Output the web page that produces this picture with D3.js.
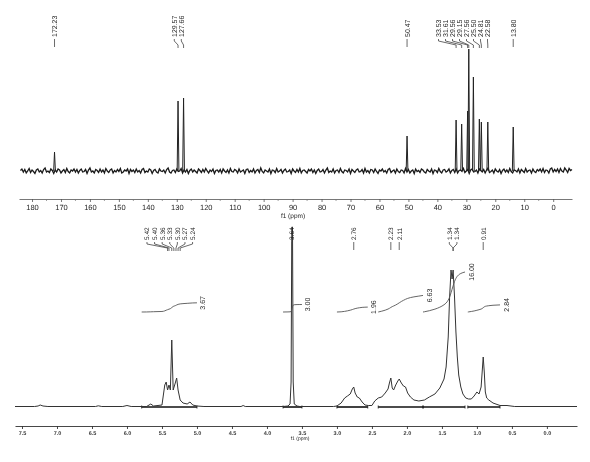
<!DOCTYPE html>
<html>
<head>
<meta charset="utf-8">
<script src="https://cdn.jsdelivr.net/npm/d3@7/dist/d3.min.js"></script>
<style>
  html, body { margin: 0; padding: 0; background: #fff; }
  svg { display: block; font-family: "Liberation Sans", Arial, sans-serif; will-change: transform; }
  svg text { -webkit-font-smoothing: antialiased; text-rendering: geometricPrecision; }
</style>
</head>
<body>
<svg id="chart" width="590" height="462"></svg>
<script>
// ---------- 13C spectrum (f1, ppm) ----------
const c13PeakShifts  = [172.23, 129.57, 127.66, 50.47, 33.53, 31.61, 29.56, 29.15, 27.56, 25.50, 24.81, 22.58, 13.80];
const c13PeakHeights = [19, 70, 73, 35, 51, 47, 60, 122, 94, 52, 49, 49, 44];
const c13PeakLabels  = ["172.23", "129.57", "127.66", "50.47", "33.53", "31.61", "29.56", "29.15", "27.56", "25.50", "24.81", "22.58", "13.80"];
// baseline noise, one value every 0.5 ppm from 184 down to -6.5
const c13NoiseStart = 184;
const c13NoiseStep = 0.5;
const c13Noise = [
  0.5, 2, -1, 1.5, -2, 0, 2.5, -1.5, 1, -0.5, -2.5, 1, 2, -1, 0.5, -2, 1.5, 3, -1, 0,
  -1.5, 2, 0.5, -2.5, 1, -1, 2, 1, -2, 0, 1.5, -1.5, 2.5, -0.5, -2, 1, 0, 2, -1, 1.5,
  -2, 0.5, 2, -1, -0.5, 1.5, -2.5, 1, 3, -1, 0, -2, 1.5, 0.5, -1.5, 2, -1, 1, -2, 2.5,
  0, -1.5, 1, 2, -2, 0.5, -1, 1.5, -0.5, 2.5, -2, -1, 1, 0, 2, -2.5, 1.5, -0.5, 1, -1.5,
  2, -1, 0.5, -2, 1.5, 2.5, -1.5, 0, -1, 2, 1, -2.5, 0.5, 1.5, -1, -2, 2, 0, -0.5, 1,
  -2, 1.5, 3, -1, -2, 0.5, 1, -1.5, 2, -0.5, 0, 2.5, -2, 1, -1, 1.5, -2.5, 0.5, 2, -1,
  1, -0.5, -2, 2, 0.5, -1.5, 1.5, -1, 2.5, 0, -2, 1, -0.5, 2, -2.5, 0.5, 1, -1, 1.5, -2,
  2, 0, -1.5, 1, -2, 2.5, -0.5, -1, 1.5, 0.5, -2, 2, -1, 0, 1, -2.5, 1.5, 2, -1.5, 0.5,
  -1, 2, -2, 0.5, 1.5, -1.5, 3, -0.5, -2, 1, 0, -1, 2, -2.5, 1, 0.5, -1.5, 2.5, -1, 0,
  1.5, -2, 0.5, 2, -1, -0.5, 1, -2.5, 2, 0, -1.5, 1.5, -1, 2.5, -2, 0.5, 1, -0.5, -2, 1.5,
  0, 2, -1.5, 1, -2.5, 0.5, 2, -1, -0.5, 1.5, -2, 1, 3, -1.5, 0, -1, 2, -2, 0.5, 1,
  -1.5, 2.5, -0.5, -2, 1, 0.5, -1, 2, -2.5, 1.5, 0, -1.5, 1, 2, -1, -0.5, 1.5, -2, 2.5, -1,
  0.5, -2, 1.5, 1, -1.5, 2, -0.5, -2.5, 1, 0, 2, -1, 0.5, -2, 1.5, 2.5, -1.5, 0, 1, -2,
  2, -0.5, -1.5, 1, 0.5, -2, 2.5, -1, 1.5, -2, 0, 1, -2.5, 2, -0.5, 0.5, -1.5, 2, 1, -1,
  -2, 1.5, 0, -1, 2, -2.5, 1, 0.5, -1.5, 2.5, -0.5, -2, 1, 1.5, -1, 0, 2, -2, 0.5, 1.5,
  -1.5, 2, -2, 0.5, 1, -0.5, 2.5, -1.5, 0, 1.5, -2.5, 1, 2, -1, -0.5, 1, -2, 2, 0.5, -1,
  1.5, -2, 1, 3, -1.5, -0.5, 1, -2, 2, 0, -1, 1.5, -2.5, 0.5, 2, -1, 1, -1.5, 2.5, -0.5,
  -2, 1, 0.5, -1, 2, -2, 1.5, 0, -1.5, 2.5, -1, 0.5, 1, -2, 2, -0.5, -1.5, 1.5, 0, 2,
  -1, 2.5, -1.5, 1, 0.5, -2, 2, 3, -1, 1.5, -0.5, 2, -1.5, 2.5, 0, -1, 3, 1, -1.5, 2.5,
  0.5, 1.5
];
const c13AxisTicks = [180, 170, 160, 150, 140, 130, 120, 110, 100, 90, 80, 70, 60, 50, 40, 30, 20, 10, 0];

// ---------- 1H spectrum (f1, ppm) ----------
const h1Ppm = [
  7.60, 7.32, 7.27, 7.24, 7.20, 7.13, 6.45, 6.41, 6.36, 6.06, 6.00, 5.94,
  5.72, 5.66, 5.62, 5.50, 5.48, 5.46, 5.44, 5.42, 5.40, 5.38, 5.36, 5.34,
  5.31, 5.29, 5.27, 5.24, 5.20, 5.14, 5.10, 5.06, 5.00, 4.90, 4.37, 4.34,
  4.31, 3.77, 3.70, 3.67, 3.655, 3.645, 3.635, 3.625, 3.61, 3.57, 3.53,
  3.05, 3.00, 2.94, 2.89, 2.85, 2.81, 2.78, 2.76, 2.74, 2.71, 2.68, 2.64,
  2.60, 2.55, 2.50, 2.46, 2.41, 2.36, 2.31, 2.27, 2.25, 2.23, 2.21, 2.19,
  2.16, 2.13, 2.11, 2.08, 2.05, 2.02, 1.99, 1.95, 1.90, 1.83, 1.75, 1.68,
  1.60, 1.53, 1.47, 1.44, 1.41, 1.39, 1.37, 1.355, 1.34, 1.32, 1.30, 1.28,
  1.26, 1.23, 1.20, 1.16, 1.12, 1.08, 1.04, 1.00, 0.97, 0.94, 0.925, 0.91,
  0.895, 0.88, 0.86, 0.83, 0.77, 0.67, 0.57, 0.46, -0.43
];
const h1Int = [
  0.5, 0.5, 1, 2, 1, 0.5, 0.5, 1.2, 0.5, 0.5, 1.5, 0.5,
  0.5, 3, 1, 2, 12, 22, 25, 17, 22, 17, 67, 17,
  24, 29, 17, 7, 4, 3, 5, 2, 1, 0.5, 0.5, 1.5,
  0.5, 0.5, 1, 3, 25, 180, 180, 25, 3, 1, 0.5,
  0.5, 1, 4, 9, 11, 13, 18, 20, 14, 10, 9, 5,
  2, 1.5, 1.5, 6, 9, 10, 14, 18, 24, 29, 19, 17,
  22, 26, 28, 24, 21, 20, 14, 10, 7, 6, 7, 10,
  13, 19, 28, 40, 70, 110, 137, 128, 137, 110, 75, 50,
  32, 20, 13, 9, 8, 8, 11, 15, 13, 20, 35, 50,
  35, 15, 9, 7, 4, 1.5, 1.5, 0.5, 0.5
];
const h1PeakShifts = [5.42, 5.40, 5.36, 5.33, 5.30, 5.27, 5.24, 3.64, 2.76, 2.23, 2.11, 1.34, 1.34, 0.91];
const h1PeakLabels = ["5.42", "5.40", "5.36", "5.33", "5.30", "5.27", "5.24", "3.64", "2.76", "2.23", "2.11", "1.34", "1.34", "0.91"];
const h1IntegralFrom   = [5.79, 3.77, 3.00, 2.41, 1.77, 1.13];
const h1IntegralTo     = [5.00, 3.50, 2.56, 1.77, 1.17, 0.67];
const h1IntegralValues = [3.67, 3.00, 1.96, 6.63, 16.00, 2.84];
const h1AxisTicks = [7.5, 7.0, 6.5, 6.0, 5.5, 5.0, 4.5, 4.0, 3.5, 3.0, 2.5, 2.0, 1.5, 1.0, 0.5, 0.0];

// ---------- drawing ----------
const svg = d3.select("#chart");
const ink = "#222";

// scales
const x13 = d3.scaleLinear().domain([184.5, -6.5]).range([19, 572]);
const y13 = d3.scaleLinear().domain([0, 130]).range([171, 41]);
const x1H = d3.scaleLinear().domain([7.6, -0.43]).range([15, 577]);
const y1H = d3.scaleLinear().domain([0, 180]).range([407, 227]);
const yInt = d3.scaleLinear().domain([0, 16]).range([312, 272]);

// spread crowded peak labels so they sit a fixed gap apart
function spreadLabels(xs, gap) {
  const order = xs.map((x, i) => i).sort((a, b) => xs[a] - xs[b]);
  let clusters = order.map(i => ({ idx: [i], c: xs[i] }));
  let merged = true;
  while (merged) {
    merged = false;
    for (let k = 0; k < clusters.length - 1; k++) {
      const a = clusters[k], b = clusters[k + 1];
      const aRight = a.c + (a.idx.length - 1) * gap / 2;
      const bLeft = b.c - (b.idx.length - 1) * gap / 2;
      if (bLeft - aRight < gap) {
        const idx = a.idx.concat(b.idx);
        const c = d3.mean(idx, i => xs[i]);
        clusters.splice(k, 2, { idx, c });
        merged = true;
        break;
      }
    }
  }
  const out = new Array(xs.length);
  clusters.forEach((cl, ci) => {
    cl.idx.forEach((i, j) => {
      out[i] = { x: cl.c + (j - (cl.idx.length - 1) / 2) * gap, cluster: ci, size: cl.idx.length };
    });
  });
  return out;
}

function drawPeakLabels(g, shifts, labels, xs, gap, textBottom, fontSize, nudge) {
  const pos = spreadLabels(shifts.map(s => xs(s)), gap);
  shifts.forEach((s, i) => {
    const px = xs(s);
    const lx = pos[i].x + (pos[i].size > 1 ? (nudge[pos[i].cluster] || 0) : 0);
    g.append("text")
      .attr("transform", `translate(${lx + fontSize * 0.36},${textBottom}) rotate(-90)`)
      .attr("font-size", fontSize)
      .attr("fill", ink)
      .text(labels[i]);
    const t0 = textBottom + 2;
    const path = pos[i].size > 1
      ? `M${lx},${t0}L${lx},${t0 + 2}L${px},${t0 + 6}L${px},${t0 + 9}`
      : `M${lx},${t0}L${lx},${t0 + 8}`;
    g.append("path").attr("d", path).attr("fill", "none")
      .attr("stroke", "#444").attr("stroke-width", 0.8);
  });
}

// ===== 13C panel =====
const gTop = svg.append("g");

// noise baseline
const noisePts = c13Noise.map((v, i) => [c13NoiseStart - i * c13NoiseStep, v]);
gTop.append("path")
  .attr("d", d3.line().x(d => x13(d[0])).y(d => y13(d[1]))(noisePts))
  .attr("fill", "none").attr("stroke", "#1a1a1a").attr("stroke-width", 1.3);

// peaks as narrow sticks
c13PeakShifts.forEach((s, i) => {
  const pts = [[s + 0.3, 0], [s, c13PeakHeights[i]], [s - 0.3, 0]];
  gTop.append("path")
    .attr("d", d3.line().x(d => x13(d[0])).y(d => y13(d[1]))(pts))
    .attr("fill", "none").attr("stroke", ink).attr("stroke-width", 1);
});

// axis
const axTop = gTop.append("g").attr("transform", "translate(0,199)")
  .call(d3.axisBottom(x13).tickValues(c13AxisTicks).tickSize(3).tickSizeOuter(0).tickPadding(3));
axTop.selectAll("text").attr("font-size", 7.5).attr("fill", ink).attr("font-family", null);
axTop.selectAll("line, path").attr("stroke", "#555").attr("stroke-width", 0.8);
gTop.append("g").selectAll("line")
  .data(d3.range(175, -5, -10)).join("line")
  .attr("x1", d => x13(d)).attr("x2", d => x13(d))
  .attr("y1", 199).attr("y2", 201)
  .attr("stroke", "#777").attr("stroke-width", 0.7);
gTop.append("text").attr("x", 293).attr("y", 218).attr("text-anchor", "middle")
  .attr("font-size", 6.5).attr("fill", ink).text("f1 (ppm)");

drawPeakLabels(gTop, c13PeakShifts, c13PeakLabels, x13, 7, 37, 7, { 1: -3, 3: -9 });

// ===== 1H panel =====
const gBot = svg.append("g");

// integration region bars along the baseline
h1IntegralFrom.forEach((f, i) => {
  const t = h1IntegralTo[i];
  gBot.append("line")
    .attr("x1", x1H(f)).attr("x2", x1H(t))
    .attr("y1", y1H(0)).attr("y2", y1H(0))
    .attr("stroke", "#111").attr("stroke-width", 1.6);
  [f, t].forEach(p => gBot.append("line")
    .attr("x1", x1H(p)).attr("x2", x1H(p))
    .attr("y1", y1H(0) - 1.5).attr("y2", y1H(0) + 1.5)
    .attr("stroke", "#111").attr("stroke-width", 0.8));
});

// spectrum trace
const h1Pts = h1Ppm.map((p, i) => [p, h1Int[i]]);
gBot.append("path")
  .attr("d", d3.line().x(d => x1H(d[0])).y(d => y1H(d[1]))(h1Pts))
  .attr("fill", "none").attr("stroke", "#333").attr("stroke-width", 1);

// integral curves: running sum of the trace across each region
function traceAt(p) {
  for (let k = 0; k < h1Ppm.length - 1; k++) {
    if (p <= h1Ppm[k] && p >= h1Ppm[k + 1]) {
      const u = (h1Ppm[k] - p) / (h1Ppm[k] - h1Ppm[k + 1]);
      return h1Int[k] + u * (h1Int[k + 1] - h1Int[k]);
    }
  }
  return 0;
}
h1IntegralFrom.forEach((f, i) => {
  const t = h1IntegralTo[i];
  const pts = [[f, traceAt(f)]];
  h1Ppm.forEach((p, k) => { if (p < f && p > t) pts.push([p, h1Int[k]]); });
  pts.push([t, traceAt(t)]);
  let cum = 0;
  const curve = [[pts[0][0], 0]];
  for (let k = 1; k < pts.length; k++) {
    cum += (pts[k - 1][0] - pts[k][0]) * (pts[k - 1][1] + pts[k][1]) / 2;
    curve.push([pts[k][0], cum]);
  }
  const v = h1IntegralValues[i];
  curve.forEach(c => c[1] = c[1] / cum * v);
  gBot.append("path")
    .attr("d", d3.line().x(d => x1H(d[0])).y(d => yInt(d[1])).curve(d3.curveMonotoneX)(curve))
    .attr("fill", "none").attr("stroke", "#555").attr("stroke-width", 0.9);
  const lx = x1H(t) + 6, ly = yInt(v);
  gBot.append("text")
    .attr("transform", `translate(${lx + 2.5},${ly}) rotate(-90)`)
    .attr("text-anchor", "middle")
    .attr("font-size", 7).attr("fill", ink)
    .text(v.toFixed(2));
});

// axis
const axBot = gBot.append("g").attr("transform", "translate(0,426)")
  .call(d3.axisBottom(x1H).tickValues(h1AxisTicks).tickFormat(d3.format(".1f"))
    .tickSize(3).tickSizeOuter(0).tickPadding(2));
axBot.selectAll("text").attr("font-size", 5.5).attr("font-weight", "bold").attr("fill", "#333").attr("font-family", null);
axBot.selectAll("line, path").attr("stroke", "#333").attr("stroke-width", 0.9);
gBot.append("text").attr("x", 300).attr("y", 440).attr("text-anchor", "middle")
  .attr("font-size", 5).attr("fill", ink).text("f1 (ppm)");

drawPeakLabels(gBot, h1PeakShifts, h1PeakLabels, x1H, 7.6, 240, 6.5, { 0: -4, 6: -3 });
</script>
</body>
</html>
